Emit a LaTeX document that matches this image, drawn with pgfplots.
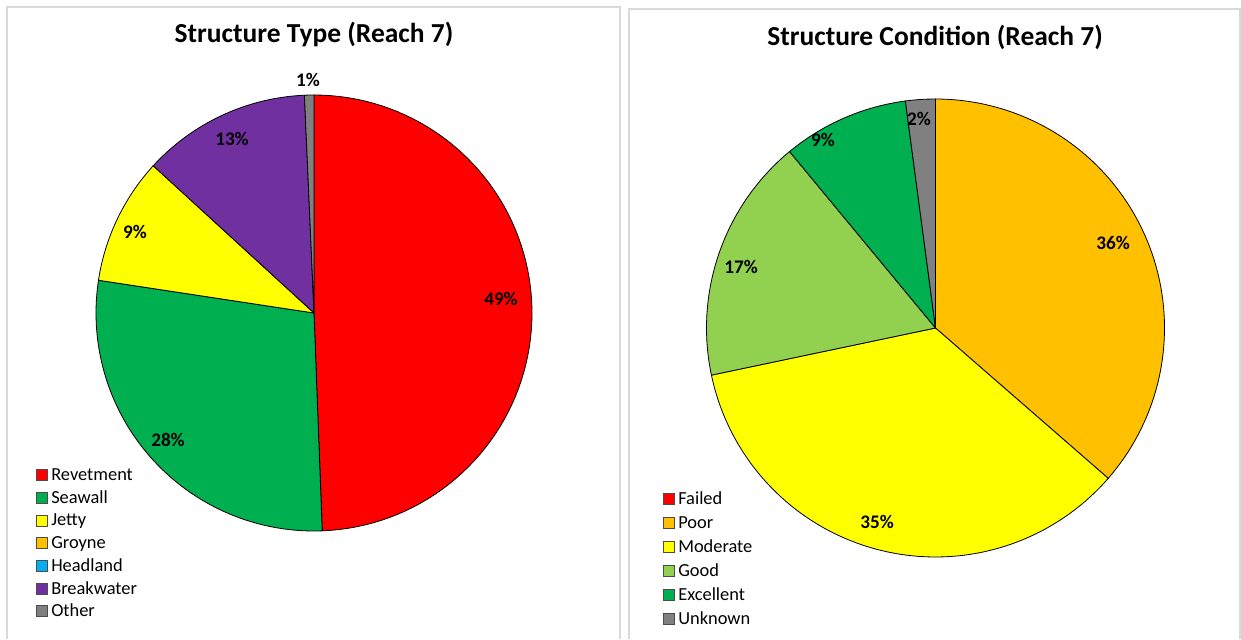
\documentclass[border=0pt]{standalone}
\usepackage{pgfplots}
\pgfplotsset{compat=1.18}
\usepackage{fontspec}
\setmainfont{Carlito}
\definecolor{cRed}{HTML}{FF0000}
\definecolor{cSea}{HTML}{00B050}
\definecolor{cYel}{HTML}{FFFF00}
\definecolor{cOra}{HTML}{FFC000}
\definecolor{cBlu}{HTML}{00B0F0}
\definecolor{cPur}{HTML}{7030A0}
\definecolor{cGry}{HTML}{808080}
\definecolor{cLgr}{HTML}{92D050}
\definecolor{frameg}{HTML}{D9D9D9}
% Left pie: Revetment 49.4, Seawall 28.0, Jetty 9.4, Groyne 0, Headland 0, Breakwater 12.5, Other 0.7
% Right pie: Failed 0, Poor 36.4, Moderate 35.3, Good 17.3, Excellent 8.9, Unknown 2.1
\newcommand{\pieslice}[6]{% cx, cy, r, start%, end%, color   (clockwise from top)
  \addplot[fill=#6, draw=black, line width=0.6pt, domain={90-3.6*(#5)}:{90-3.6*(#4)}, samples=80, variable=\t]
    ({#1+#3*cos(\t)},{#2+#3*sin(\t)}) -- (axis cs:#1,#2) -- cycle;}
\begin{document}
\begin{tikzpicture}[x=0.75pt,y=0.75pt]
\path[fill=white] (0,0) rectangle (1241,637);
\draw[frameg, line width=0.8pt] (7,-2) -- (7,630) -- (620,630) -- (620,-2);
\draw[frameg, line width=0.8pt] (629,-2) -- (629,628) -- (1240,628) -- (1240,-2);
\begin{axis}[at={(0,0)}, anchor=south west, scale only axis,
  width=930.75pt, height=477.75pt, xmin=0, xmax=1241, ymin=0, ymax=637,
  hide axis, clip=false]
% left pie, center (314,324), r=218
\pieslice{314}{324}{218}{0}{49.4}{cRed}
\pieslice{314}{324}{218}{49.4}{77.4}{cSea}
\pieslice{314}{324}{218}{77.4}{86.8}{cYel}
\pieslice{314}{324}{218}{86.8}{99.3}{cPur}
\pieslice{314}{324}{218}{99.3}{100}{cGry}
% right pie, center (935.5,309), r=229
\pieslice{935.5}{309}{229}{0}{36.4}{cOra}
\pieslice{935.5}{309}{229}{36.4}{71.7}{cYel}
\pieslice{935.5}{309}{229}{71.7}{89.0}{cLgr}
\pieslice{935.5}{309}{229}{89.0}{97.9}{cSea}
\pieslice{935.5}{309}{229}{97.9}{100}{cGry}
\end{axis}
\begin{scope}[every node/.style={font=\bfseries\fontsize{14.4}{16}\selectfont}]
\node at (501,338) {49\%};
\node at (168,197) {28\%};
\node at (135,405) {9\%};
\node at (232,498) {13\%};
\node at (308,557) {1\%};
\node at (1113,394) {36\%};
\node at (877,115) {35\%};
\node at (741,370) {17\%};
\node at (823,497) {9\%};
\node at (919,518) {2\%};
\end{scope}
\node[font=\bfseries\fontsize{20.6}{23}\selectfont] at (314,603) {Structure Type (Reach 7)};
\node[font=\bfseries\fontsize{20.6}{23}\selectfont] at (935,600) {Structure Condition (Reach 7)};
% legends
\foreach \c/\t [count=\i from 0] in {cRed/Revetment,cSea/Seawall,cYel/Jetty,cOra/Groyne,cBlu/Headland,cPur/Breakwater,cGry/Other}{
  \pgfmathsetmacro{\yy}{637-475-22.7*\i}
  \draw[fill=\c, draw=black!70, line width=0.5pt] (36,\yy-5.5) rectangle (47,\yy+5.5);
  \node[anchor=base west, inner sep=0pt, font=\fontsize{13.8}{15}\selectfont] at (51,\yy-5.5) {\t};
}
\foreach \c/\t [count=\i from 0] in {cRed/Failed,cOra/Poor,cYel/Moderate,cLgr/Good,cSea/Excellent,cGry/Unknown}{
  \pgfmathsetmacro{\yy}{637-499-24*\i}
  \draw[fill=\c, draw=black!70, line width=0.5pt] (663,\yy-5.5) rectangle (674,\yy+5.5);
  \node[anchor=base west, inner sep=0pt, font=\fontsize{13.8}{15}\selectfont] at (678,\yy-5.5) {\t};
}
\end{tikzpicture}
\end{document}
